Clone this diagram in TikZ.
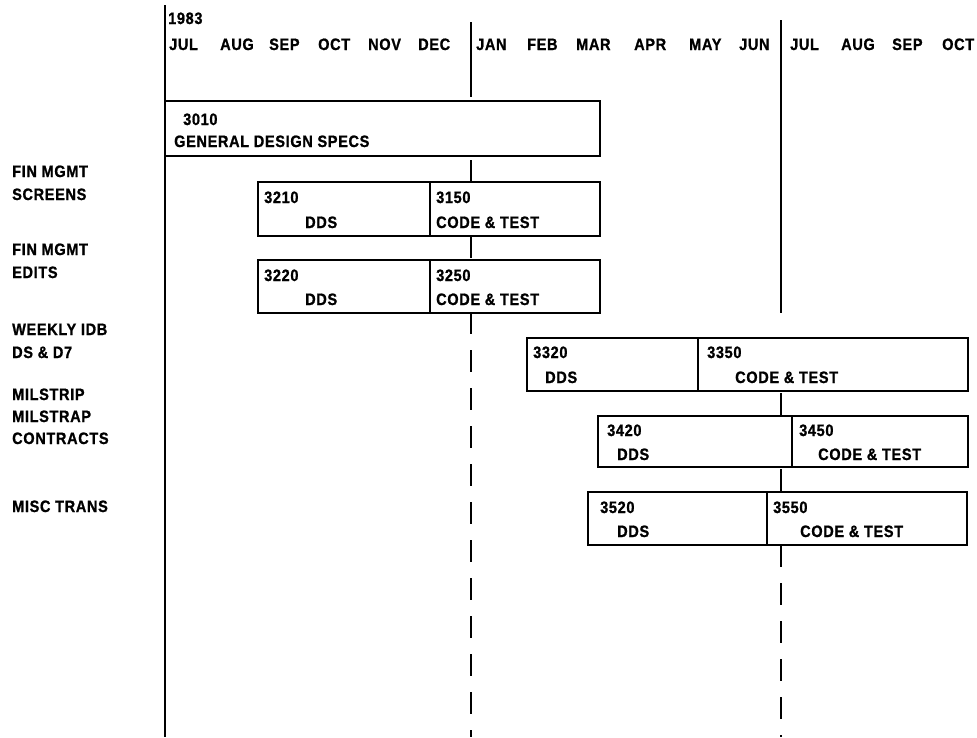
\documentclass[tikz,border=0pt]{standalone}
\usepackage{fontspec}
\setmainfont{Liberation Sans}[FakeStretch=0.88, LetterSpace=4, BoldFeatures={FakeBold=1}]
\tikzset{
  lbl/.style={font=\fontsize{16.5}{19}\selectfont\bfseries, inner sep=0pt, anchor=west,
    text height=12pt, text depth=0pt},
  bar/.style={line width=1.6pt, fill=white},
  rule/.style={line width=1.7pt},
  dashrule/.style={line width=1.7pt, dash pattern=on 22pt off 16pt}
}
\begin{document}
\begin{tikzpicture}[x=1pt, y=-1pt]
  \useasboundingbox (0,0) rectangle (977,737);
  % the time lines
  \draw[rule] (165,5) -- (165,737);
  \draw[rule] (471,22) -- (471,97);
  \draw[dashrule] (471,160) -- (471,737);
  \draw[rule] (781,20) -- (781,313);
  \draw[dashrule] (781,393) -- (781,737);
  % year and months
  \node[lbl] (yr) at (168,18) {1983};
  \foreach \x/\m [count=\i] in {169/JUL,220/AUG,269/SEP,318/OCT,368/NOV,418/DEC,
      476/JAN,527/FEB,576/MAR,634/APR,689/MAY,739/JUN,790/JUL,841/AUG,892/SEP,942/OCT}
    \node[lbl] (m\i) at (\x,44) {\m};
  % general design
  \draw[bar] (165,101) rectangle (600,156);
  \node[lbl] (n3010) at (183,119) {3010};
  \node[lbl] (g3010) at (174,141) {GENERAL DESIGN SPECS};
  % row labels
  \node[lbl] (r1a) at (12,171) {FIN MGMT};
  \node[lbl] (r1b) at (12,194) {SCREENS};
  \node[lbl] (r2a) at (12,249) {FIN MGMT};
  \node[lbl] (r2b) at (12,272) {EDITS};
  \node[lbl] (r3a) at (12,329) {WEEKLY IDB};
  \node[lbl] (r3b) at (12,352) {DS \& D7};
  \node[lbl] (r4a) at (12,394) {MILSTRIP};
  \node[lbl] (r4b) at (12,416) {MILSTRAP};
  \node[lbl] (r4c) at (12,438) {CONTRACTS};
  \node[lbl] (r5a) at (12,506) {MISC TRANS};
  % fin mgmt screens
  \draw[bar] (258,182) rectangle (430,236);
  \draw[bar] (430,182) rectangle (600,236);
  \node[lbl] (n3210) at (264,197) {3210};
  \node[lbl] (d3210) at (305,222) {DDS};
  \node[lbl] (n3150) at (436,197) {3150};
  \node[lbl] (c3150) at (436,222) {CODE \& TEST};
  % fin mgmt edits
  \draw[bar] (258,260) rectangle (430,313);
  \draw[bar] (430,260) rectangle (600,313);
  \node[lbl] (n3220) at (264,275) {3220};
  \node[lbl] (d3220) at (305,299) {DDS};
  \node[lbl] (n3250) at (436,275) {3250};
  \node[lbl] (c3250) at (436,299) {CODE \& TEST};
  % weekly idb
  \draw[bar] (527,338) rectangle (698,391);
  \draw[bar] (698,338) rectangle (968,391);
  \node[lbl] (n3320) at (533,352) {3320};
  \node[lbl] (d3320) at (545,377) {DDS};
  \node[lbl] (n3350) at (707,352) {3350};
  \node[lbl] (c3350) at (735,377) {CODE \& TEST};
  % milstrip milstrap
  \draw[bar] (598,416) rectangle (792,467);
  \draw[bar] (792,416) rectangle (968,467);
  \node[lbl] (n3420) at (607,430) {3420};
  \node[lbl] (d3420) at (617,454) {DDS};
  \node[lbl] (n3450) at (799,430) {3450};
  \node[lbl] (c3450) at (818,454) {CODE \& TEST};
  % misc trans
  \draw[bar] (588,492) rectangle (767,545);
  \draw[bar] (767,492) rectangle (967,545);
  \node[lbl] (n3520) at (600,507) {3520};
  \node[lbl] (d3520) at (617,531) {DDS};
  \node[lbl] (n3550) at (773,507) {3550};
  \node[lbl] (c3550) at (800,531) {CODE \& TEST};
\end{tikzpicture}
\end{document}
